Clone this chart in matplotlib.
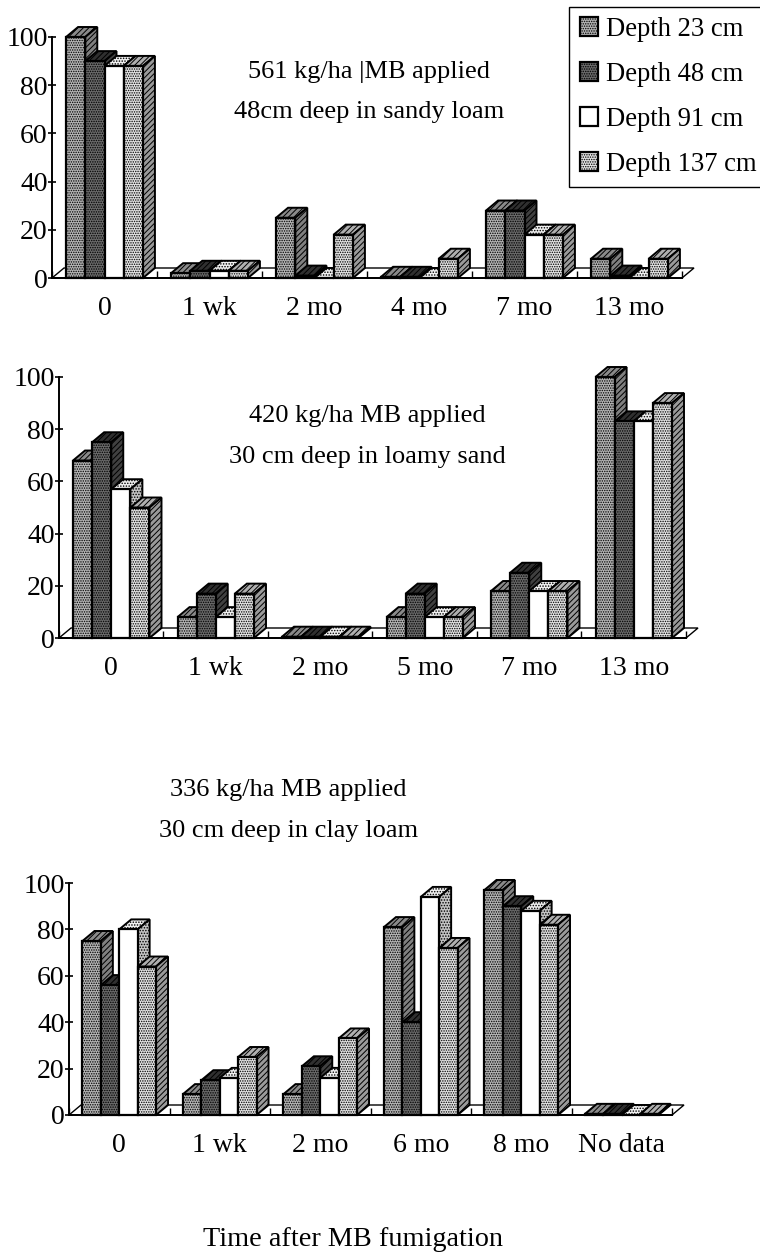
import matplotlib
matplotlib.use('Agg')
import matplotlib.pyplot as plt
from matplotlib.patches import Patch, Polygon

plt.rcParams['font.family'] = ['Liberation Serif', 'DejaVu Serif']
plt.rcParams['hatch.linewidth'] = 0.7

W, H = 760, 1252

depths = ['Depth 23 cm', 'Depth 48 cm', 'Depth 91 cm', 'Depth 137 cm']

times_a = ['0', '1 wk', '2 mo', '4 mo', '7 mo', '13 mo']
d23_a = [100, 2, 25, 0.5, 28, 8]
d48_a = [90, 3, 1, 0.5, 28, 1]
d91_a = [88, 3, 0, 0, 18, 0]
d137_a = [88, 3, 18, 8, 18, 8]

times_b = ['0', '1 wk', '2 mo', '5 mo', '7 mo', '13 mo']
d23_b = [68, 8, 0.5, 8, 18, 100]
d48_b = [75, 17, 0.5, 17, 25, 83]
d91_b = [57, 8, 0.5, 8, 18, 83]
d137_b = [50, 17, 0.5, 8, 18, 90]

times_c = ['0', '1 wk', '2 mo', '6 mo', '8 mo', 'No data']
d23_c = [75, 9, 9, 81, 97, 0.5]
d48_c = [56, 15, 21, 40, 90, 0.5]
d91_c = [80, 16, 16, 94, 88, 0]
d137_c = [64, 25, 33, 72, 82, 0.5]

yticks = [0, 20, 40, 60, 80, 100]

front = ['#b4b4b4', '#6a6a6a', 'white', '#e2e2e2']
top = ['#8a8a8a', '#303030', '#f0f0f0', '#b0b0b0']
side = ['#808080', '#404040', '#c4c4c4', '#9a9a9a']
front_hatch = ['.' * 7, '.' * 7, None, '.' * 7]
other_hatch = ['/' * 6, '/' * 6, '.' * 6, '/' * 6]

DX, DY = 12, 10

fig = plt.figure(figsize=(W / 100, H / 100), dpi=100)


def panel(left, right, y100, y0, times, series):
    ax = fig.add_axes([left / W, 1 - y0 / H, (right - left) / W, (y0 - y100) / H])
    ax.set_xlim(0, 6)
    ax.set_ylim(0, 100)
    ax.patch.set_alpha(0)
    dx = DX / (right - left) * 6
    dy = DY / (y0 - y100) * 100
    # floor behind the bars
    ax.add_patch(Polygon([(0, 0), (dx, dy), (6 + dx, dy), (6, 0)], closed=True, fc='white',
                         ec='black', lw=1, clip_on=False, zorder=1))
    width = 0.183
    for g in range(6):
        for s, vals in enumerate(series):
            v = vals[g]
            x0 = g + 0.5 - 2 * width + s * width
            x1 = x0 + width
            z = 2 + g * 10 + s * 2
            ax.bar(x0, v, width, align='edge', fc=front[s], ec='black', lw=1.6,
                   hatch=front_hatch[s], zorder=z + 1, clip_on=False)
            ax.add_patch(Polygon([(x0, v), (x0 + dx, v + dy), (x1 + dx, v + dy), (x1, v)],
                                 closed=True, fc=top[s], ec='black', lw=1.4,
                                 hatch=other_hatch[s], clip_on=False, zorder=z))
            ax.add_patch(Polygon([(x1, 0), (x1 + dx, dy), (x1 + dx, v + dy), (x1, v)],
                                 closed=True, fc=side[s], ec='black', lw=1.4,
                                 hatch=other_hatch[s], clip_on=False, zorder=z))
    for name in ['top', 'right']:
        ax.spines[name].set_visible(False)
    for name in ['left', 'bottom']:
        ax.spines[name].set_linewidth(1.4)
        ax.spines[name].set_zorder(200)
    ax.set_yticks(yticks)
    ax.tick_params(axis='y', labelsize=20, length=6, width=1.2, direction='inout', pad=0)
    ax.set_xticks([g + 0.5 for g in range(6)])
    ax.set_xticklabels(times)
    ax.set_xticks(range(7), minor=True)
    ax.tick_params(axis='x', which='major', labelsize=20, length=0, pad=13)
    ax.tick_params(axis='x', which='minor', length=5, width=1, direction='in')
    return ax


def label(x, y, s, size=19):
    fig.text(x / W, 1 - y / H, s, fontsize=size, ha='center', va='center')


panel(52, 682, 37, 278, times_a, [d23_a, d48_a, d91_a, d137_a])
panel(59, 686, 377, 638, times_b, [d23_b, d48_b, d91_b, d137_b])
panel(69, 672, 883, 1115, times_c, [d23_c, d48_c, d91_c, d137_c])

label(369, 72, '561 kg/ha |MB applied')
label(369, 112, '48cm deep in sandy loam')
label(367, 416, '420 kg/ha MB applied')
label(367, 457, '30 cm deep in loamy sand')
label(288, 790, '336 kg/ha MB applied')
label(289, 831, '30 cm deep in clay loam')
label(353, 1240, 'Time after MB fumigation', size=20.3)

handles = [Patch(fc=front[i], ec='black', lw=1.6, hatch=front_hatch[i]) for i in range(4)]
leg = fig.legend(handles, depths, loc='upper right', bbox_to_anchor=(767 / W, 1 - 7 / H),
                 fontsize=19.2, frameon=True, fancybox=False, framealpha=1, edgecolor='black',
                 labelspacing=0.75, handlelength=0.7, handleheight=0.7, handletextpad=0.3,
                 borderpad=0.38, borderaxespad=0)
leg.get_frame().set_linewidth(1.0)

fig.savefig('out.png', dpi=100)
